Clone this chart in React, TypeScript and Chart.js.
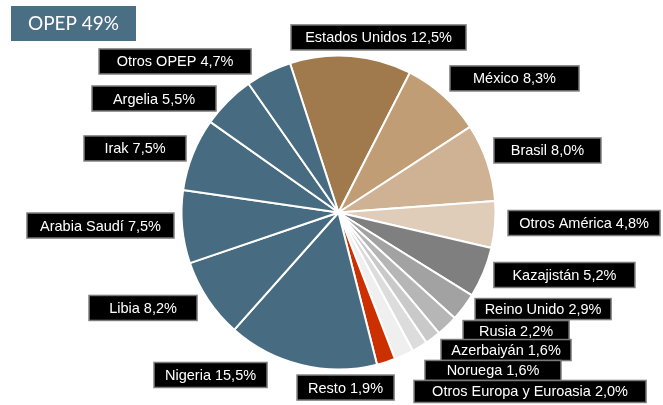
import React, { useEffect, useRef } from "react";
import { Chart, registerables } from "chart.js";

Chart.register(...registerables);

// ---- Data ----
const categories = [
  "Estados Unidos",
  "México",
  "Brasil",
  "Otros América",
  "Kazajistán",
  "Reino Unido",
  "Rusia",
  "Azerbaiyán",
  "Noruega",
  "Otros Europa y Euroasia",
  "Resto",
  "Nigeria",
  "Libia",
  "Arabia Saudí",
  "Irak",
  "Argelia",
  "Otros OPEP",
];

const shares = [12.5, 8.3, 8.0, 4.8, 5.2, 2.9, 2.2, 1.6, 1.6, 2.0, 1.9, 15.5, 8.2, 7.5, 7.5, 5.5, 4.7];

const opepMembers = ["Nigeria", "Libia", "Arabia Saudí", "Irak", "Argelia", "Otros OPEP"];

// ---- Styles ----
const OPEP_COLOR = "#476b81";
const sliceColors = [
  "#a07a4d",
  "#c19d76",
  "#ceb293",
  "#dfcdb9",
  "#7f7f7f",
  "#a2a2a2",
  "#b6b6b6",
  "#c9c9c9",
  "#dcdcdc",
  "#efefef",
  "#cc3000",
  OPEP_COLOR,
  OPEP_COLOR,
  OPEP_COLOR,
  OPEP_COLOR,
  OPEP_COLOR,
  OPEP_COLOR,
];

// label box layout: [dx, dy] in units of the pie radius from the pie centre, [w, h] in px
const labelLayout: [number, number, number, number][] = [
  [0.255, -1.115, 175, 25],
  [1.121, -0.854, 129, 25],
  [1.331, -0.395, 107, 25],
  [1.564, 0.067, 152, 25],
  [1.439, 0.398, 141, 25],
  [1.303, 0.615, 136, 21],
  [1.131, 0.752, 106, 20],
  [1.067, 0.876, 130, 21],
  [0.984, 1.006, 136, 20],
  [1.22, 1.14, 232, 22],
  [0.045, 1.115, 97, 25],
  [-0.815, 1.035, 113, 25],
  [-1.245, 0.608, 108, 25],
  [-1.516, 0.083, 147, 25],
  [-1.296, -0.408, 102, 25],
  [-1.175, -0.726, 124, 25],
  [-1.041, -0.962, 152, 25],
];

const fmt = (v: number) => v.toFixed(1).replace(".", ",") + "%";

const opepTotal = categories.reduce(
  (s, c, i) => (opepMembers.includes(c) ? s + shares[i] : s),
  0
);

const labelPlugin = {
  id: "boxLabels",
  afterDatasetsDraw(chart: any) {
    const ctx = chart.ctx as CanvasRenderingContext2D;
    const meta = chart.getDatasetMeta(0);
    ctx.save();
    meta.data.forEach((arc: any, i: number) => {
      const { x, y, outerRadius } = arc.getProps(["x", "y", "outerRadius"], true);
      const [dx, dy, w, h] = labelLayout[i];
      const cx = x + dx * outerRadius;
      const cy = y + dy * outerRadius;
      ctx.fillStyle = "#000";
      ctx.fillRect(cx - w / 2, cy - h / 2, w, h);
      ctx.strokeStyle = "#7a7a7a";
      ctx.lineWidth = 1.5;
      ctx.strokeRect(cx - w / 2, cy - h / 2, w, h);
      ctx.fillStyle = "#fff";
      ctx.font = '14.5px "Liberation Sans", Arial, sans-serif';
      ctx.textAlign = "center";
      ctx.textBaseline = "middle";
      ctx.fillText(`${categories[i]} ${fmt(shares[i])}`, cx, cy + 1);
    });
    // OPEP summary box
    ctx.fillStyle = "#4a6e84";
    ctx.fillRect(11, 6, 125, 35);
    ctx.fillStyle = "#fff";
    ctx.font = '19px Lato, "Open Sans", sans-serif';
    ctx.textAlign = "center";
    ctx.textBaseline = "middle";
    ctx.fillText(`OPEP ${Math.round(opepTotal)}%`, 73.5, 24);
    ctx.restore();
  },
};

export default function App() {
  const canvasRef = useRef<HTMLCanvasElement | null>(null);

  useEffect(() => {
    document.body.style.margin = "0";
    if (!canvasRef.current) return;
    const chart = new Chart(canvasRef.current, {
      type: "pie",
      data: {
        labels: categories,
        datasets: [
          {
            data: shares,
            backgroundColor: sliceColors,
            borderColor: "#ffffff",
            borderWidth: 2,
          },
        ],
      },
      options: {
        responsive: true,
        maintainAspectRatio: false,
        animation: false,
        rotation: -18,
        layout: {
          padding: { left: 180.5, right: 166.5, top: 54.5, bottom: 34.5 },
        },
        plugins: {
          legend: { display: false },
          tooltip: { enabled: false },
          title: { display: false },
        },
      },
      plugins: [labelPlugin],
    });
    return () => chart.destroy();
  }, []);

  return (
    <div style={{ position: "fixed", left: 0, top: 0, width: 663, height: 405, background: "#fff" }}>
      <canvas ref={canvasRef} />
    </div>
  );
}
